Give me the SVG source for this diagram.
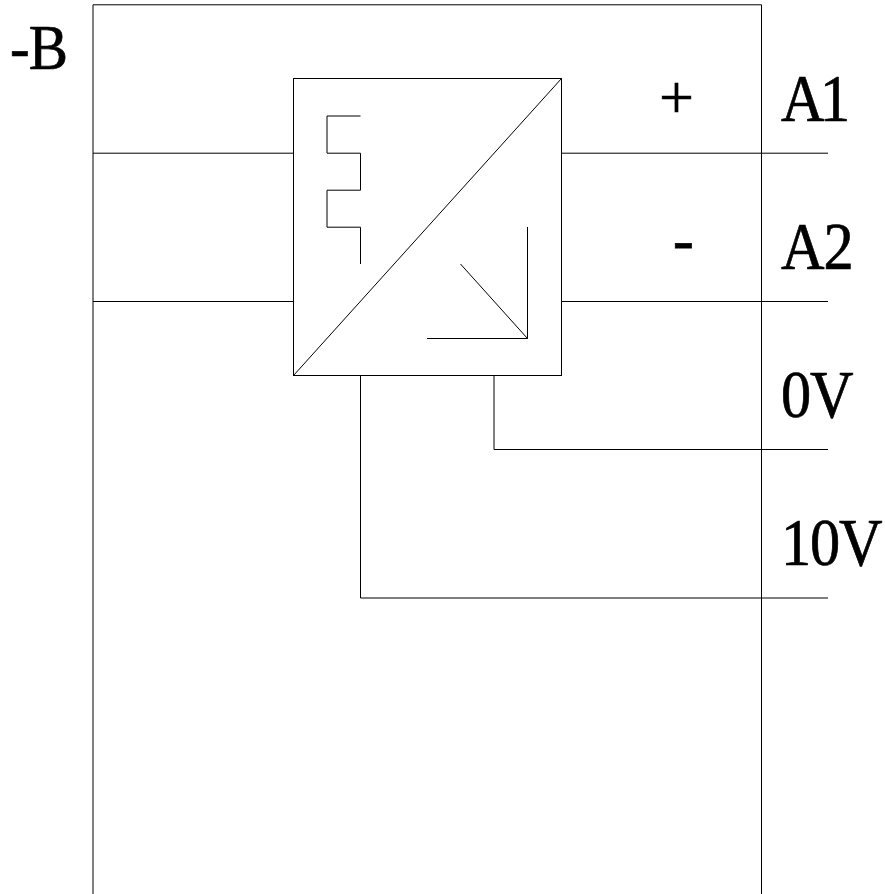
<svg xmlns="http://www.w3.org/2000/svg" width="885" height="894" viewBox="0 0 885 894">
<style>
.l{fill:none;stroke:#000;stroke-width:1}
text{font-family:"Liberation Serif","Times New Roman",serif;font-size:67px;fill:#000;stroke:#000;stroke-width:.7;letter-spacing:-1.2px}
</style>
<rect width="885" height="894" fill="#fff"/>
<g id="enclosure"><path class="l" d="M93 894V4.800H761.500V894"/></g>
<g id="converter">
<rect class="l" x="293.500" y="78.500" width="268" height="297"/>
<path class="l" d="M293.500 375.500L561.500 78.500"/>
<path class="l" d="M360.500 264V227.200H327V190.200H360.500V153.200H327V116H360.500"/>
<path class="l" d="M527.500 227V338.500H427M527.500 338.500L460.500 264"/>
</g>
<g id="connectors">
<path class="l" d="M93 153.200H293M93 301.500H293M561 153.200H828M561 301.500H828M494 375V449.500H828M360.500 375V598H828"/>
</g>
<g id="labels">
<text transform="translate(10 69) scale(.92 1)" style="font-size:64px;letter-spacing:-1px">-B</text>
<text transform="translate(659 118)" style="font-size:62px;stroke-width:.5">+</text>
<text transform="translate(673 260)" style="font-size:62px;stroke-width:.8">-</text>
<text transform="translate(781 121) scale(.9 1)" style="letter-spacing:-5px">A1</text>
<text transform="translate(781 269) scale(.9 1)">A2</text>
<text transform="translate(781 417) scale(.9 1)">0V</text>
<text transform="translate(781 565) scale(.9 1)">10V</text>
</g>
</svg>
